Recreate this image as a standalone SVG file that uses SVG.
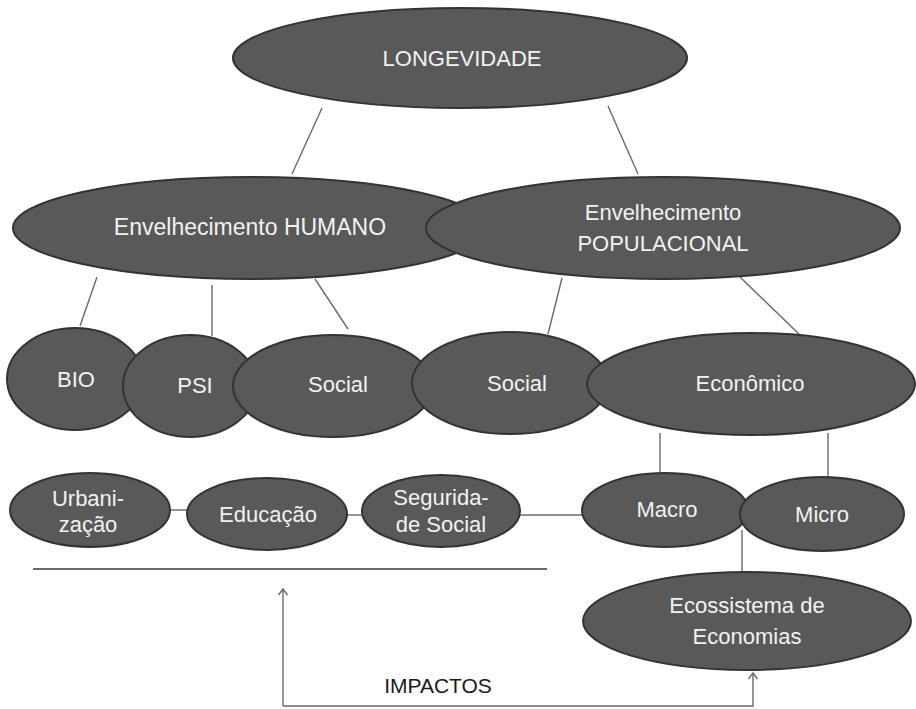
<svg xmlns="http://www.w3.org/2000/svg" width="916" height="709" viewBox="0 0 916 709">
<defs>
<style>
.n ellipse{fill:#595959;stroke:#333;stroke-width:2}
.n text{fill:#f2f2f2;font-family:"Liberation Sans",Arial,sans-serif;font-size:22px;text-anchor:middle}
.c line,.c path{stroke:#6a6a6a;stroke-width:1.4;fill:none}
.lbl{fill:#1a1a1a;font-family:"Liberation Sans",Arial,sans-serif;font-size:21px;text-anchor:middle}
</style>
<marker id="ah" viewBox="-7 -7 14 14" markerWidth="14" markerHeight="14" markerUnits="userSpaceOnUse" orient="auto" refX="0" refY="0">
<path d="M-6,-4.5 L0,0 L-6,4.5" fill="none" stroke="#6a6a6a" stroke-width="1.4"/>
</marker>
</defs>
<rect width="916" height="709" fill="#fff"/>
<g id="connectors" class="c">
<line x1="322" y1="108" x2="292" y2="174"/>
<line x1="608" y1="106" x2="638" y2="174"/>
<line x1="97" y1="277" x2="80" y2="326"/>
<line x1="212" y1="285" x2="212" y2="336"/>
<line x1="315" y1="279" x2="348" y2="329"/>
<line x1="562" y1="278" x2="548" y2="334"/>
<line x1="740" y1="277" x2="800" y2="335"/>
<line x1="660" y1="433" x2="660" y2="474"/>
<line x1="828" y1="433" x2="828" y2="478"/>
<line x1="170" y1="510" x2="188" y2="510"/>
<line x1="346" y1="515" x2="363" y2="515"/>
<line x1="520" y1="515" x2="583" y2="515"/>
<line x1="742" y1="530" x2="742" y2="573"/>
<line x1="33" y1="569" x2="547" y2="569" style="stroke:#3a3a3a"/>
<path d="M283,706 L283,589" marker-end="url(#ah)"/>
<path d="M283,706 L753,706 L753,673" marker-end="url(#ah)"/>
</g>
<g id="longevidade" class="n"><ellipse cx="460" cy="58" rx="227" ry="50"/><text x="462" y="66">LONGEVIDADE</text></g>
<g id="env-humano" class="n"><ellipse cx="250" cy="228" rx="237" ry="51"/><text x="250" y="235" style="font-size:23px">Envelhecimento HUMANO</text></g>
<g id="env-populacional" class="n"><ellipse cx="663" cy="228" rx="237" ry="51"/><text x="663" y="220">Envelhecimento</text><text x="663" y="251">POPULACIONAL</text></g>
<g id="bio" class="n"><ellipse cx="75" cy="379" rx="68" ry="51"/><text x="76" y="387">BIO</text></g>
<g id="psi" class="n"><ellipse cx="190" cy="386" rx="67" ry="51"/><text x="195" y="393">PSI</text></g>
<g id="social-h" class="n"><ellipse cx="333" cy="386" rx="100" ry="51"/><text x="338" y="392">Social</text></g>
<g id="social-p" class="n"><ellipse cx="510" cy="383" rx="98" ry="51"/><text x="517" y="391">Social</text></g>
<g id="economico" class="n"><ellipse cx="751" cy="384" rx="164" ry="51"/><text x="750" y="391">Econômico</text></g>
<g id="urbanizacao" class="n"><ellipse cx="90" cy="510" rx="80" ry="37"/><text x="88" y="506">Urbani-</text><text x="88" y="532">zação</text></g>
<g id="educacao" class="n"><ellipse cx="267" cy="514" rx="80" ry="36"/><text x="268" y="522">Educação</text></g>
<g id="seguridade" class="n"><ellipse cx="441" cy="511" rx="79" ry="36"/><text x="441" y="505">Segurida-</text><text x="441" y="532">de Social</text></g>
<g id="macro" class="n"><ellipse cx="665" cy="510" rx="83" ry="37"/><text x="667" y="517">Macro</text></g>
<g id="micro" class="n"><ellipse cx="822" cy="514" rx="82" ry="37"/><text x="822" y="522">Micro</text></g>
<g id="ecossistema" class="n"><ellipse cx="747" cy="621" rx="164" ry="49"/><text x="747" y="613">Ecossistema de</text><text x="747" y="644">Economias</text></g>
<text class="lbl" x="438" y="693">IMPACTOS</text>
</svg>
